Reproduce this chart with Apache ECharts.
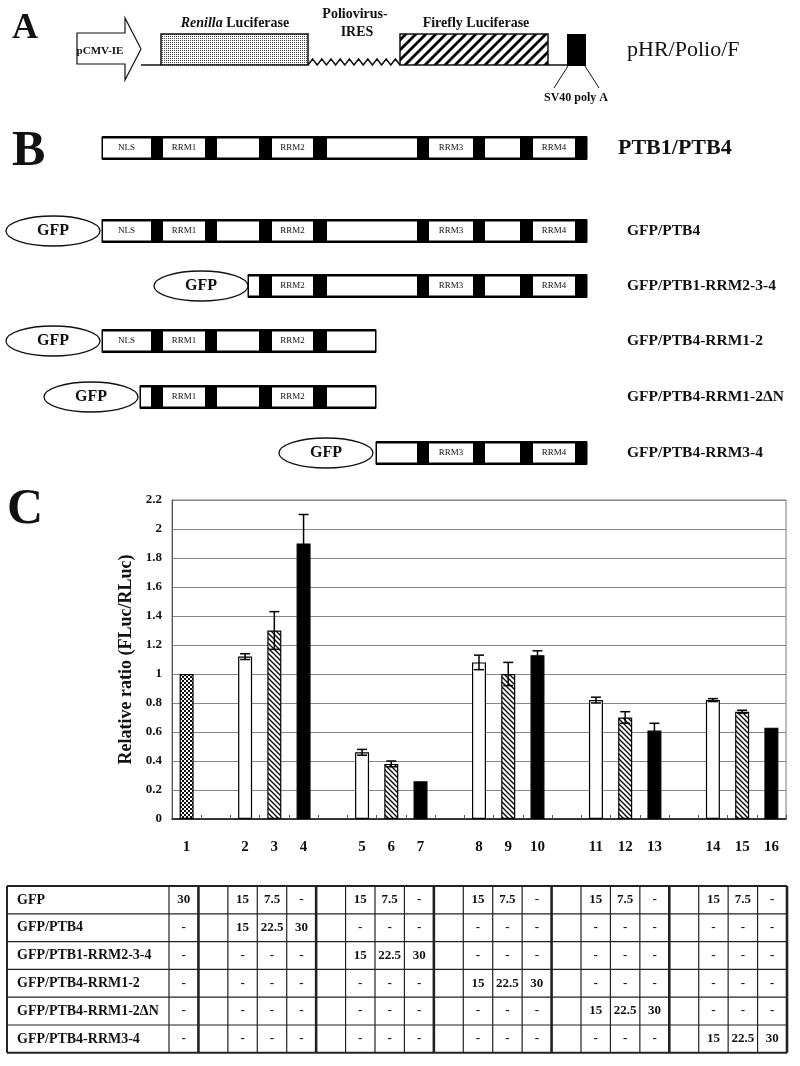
<!DOCTYPE html>
<html lang="en">
<head>
<meta charset="utf-8">
<style>
  html, body { margin: 0; background: #fff; }
  #container { width: 800px; height: 1066px; }
</style>
</head>
<body>
<div id="container"></div>
<script src="https://cdn.jsdelivr.net/npm/echarts@6/dist/echarts.min.js"></script>
<script>
// ---- panel C data ----
const laneNames = ['1', '2', '3', '4', '5', '6', '7', '8', '9', '10', '11', '12', '13', '14', '15', '16'];
// slot of each lane on the x axis (empty slots separate the groups)
const laneSlot = [0, 2, 3, 4, 6, 7, 8, 10, 11, 12, 14, 15, 16, 18, 19, 20];
const slotCount = 21;
const ratio    = [1.00, 1.12, 1.30, 1.90, 0.46, 0.38, 0.26, 1.08, 1.00, 1.13, 0.82, 0.70, 0.61, 0.82, 0.74, 0.63];
const ratioErr = [0,    0.02, 0.13, 0.20, 0.02, 0.02, 0,    0.05, 0.08, 0.03, 0.02, 0.04, 0.05, 0.01, 0.01, 0];
const laneFill = ['check', 'open', 'hatch', 'solid', 'open', 'hatch', 'solid', 'open', 'hatch', 'solid',
                  'open', 'hatch', 'solid', 'open', 'hatch', 'solid'];

// ---- table under panel C (amounts per lane) ----
const tableLabels = ['GFP', 'GFP/PTB4', 'GFP/PTB1-RRM2-3-4', 'GFP/PTB4-RRM1-2', 'GFP/PTB4-RRM1-2\u0394N', 'GFP/PTB4-RRM3-4'];
const amtGFP      = ['30', '15', '7.5', '-', '15', '7.5', '-', '15', '7.5', '-', '15', '7.5', '-', '15', '7.5', '-'];
const amtPTB4     = ['-', '15', '22.5', '30', '-', '-', '-', '-', '-', '-', '-', '-', '-', '-', '-', '-'];
const amtRRM234   = ['-', '-', '-', '-', '15', '22.5', '30', '-', '-', '-', '-', '-', '-', '-', '-', '-'];
const amtRRM12    = ['-', '-', '-', '-', '-', '-', '-', '15', '22.5', '30', '-', '-', '-', '-', '-', '-'];
const amtRRM12dN  = ['-', '-', '-', '-', '-', '-', '-', '-', '-', '-', '15', '22.5', '30', '-', '-', '-'];
const amtRRM34    = ['-', '-', '-', '-', '-', '-', '-', '-', '-', '-', '-', '-', '-', '15', '22.5', '30'];
const tableValues = [amtGFP, amtPTB4, amtRRM234, amtRRM12, amtRRM12dN, amtRRM34];

// ---- panel B constructs ----
const domainNames = ['NLS', 'RRM1', '', 'RRM2', '', 'RRM3', '', 'RRM4'];
const constructNames = ['PTB1/PTB4', 'GFP/PTB4', 'GFP/PTB1-RRM2-3-4', 'GFP/PTB4-RRM1-2', 'GFP/PTB4-RRM1-2\u0394N', 'GFP/PTB4-RRM3-4'];

// ---- layout ----
const SERIF = '"Liberation Serif", "Times New Roman", serif';
const gridL = 172, gridT = 500, gridR = 786, gridB = 819;
// full length PTB: white boxes separated by black linkers (x edges)
const whiteBoxes = [[102, 151], [163, 205], [217, 259], [272, 313], [327, 417], [429, 473], [485, 520], [533, 575]];
const constructLayout = [
  { from: 102, to: 587, gfp: null, y: 148, big: true },
  { from: 102, to: 587, gfp: 53, y: 231 },
  { from: 248, to: 587, gfp: 201, y: 286 },
  { from: 102, to: 376, gfp: 53, y: 341 },
  { from: 140, to: 376, gfp: 91, y: 397 },
  { from: 376, to: 587, gfp: 326, y: 453 }
];

function pattern(size, draw) {
  const c = document.createElement('canvas');
  c.width = c.height = size;
  draw(c.getContext('2d'), size);
  return { image: c, repeat: 'repeat' };
}
const backHatch = pattern(5, function (g, s) {
  g.fillStyle = '#fff'; g.fillRect(0, 0, s, s);
  g.strokeStyle = '#000'; g.lineWidth = 1.3;
  g.beginPath();
  g.moveTo(-1, -1); g.lineTo(s + 1, s + 1);
  g.moveTo(-1, s - 1); g.lineTo(1, s + 1);
  g.moveTo(s - 1, -1); g.lineTo(s + 1, 1);
  g.stroke();
});
const checker = pattern(4, function (g, s) {
  g.fillStyle = '#111'; g.fillRect(0, 0, s, s);
  g.fillStyle = '#fff'; g.fillRect(0, 0, 2, 2); g.fillRect(2, 2, 2, 2);
});
const fwdHatch = pattern(10, function (g, s) {
  g.fillStyle = '#fff'; g.fillRect(0, 0, s, s);
  g.strokeStyle = '#000'; g.lineWidth = 2.8;
  g.beginPath();
  g.moveTo(-1, s + 1); g.lineTo(s + 1, -1);
  g.moveTo(-2, 2); g.lineTo(2, -2);
  g.moveTo(s - 2, s + 2); g.lineTo(s + 2, s - 2);
  g.stroke();
});
const stipple = pattern(2, function (g, s) {
  g.fillStyle = '#fff'; g.fillRect(0, 0, s, s);
  g.fillStyle = '#444'; g.fillRect(0, 0, 1, 1);
});
const fills = { open: '#fff', hatch: backHatch, solid: '#000', check: checker };

// ---- series data ----
const categories = [];
const barData = [];
for (let s = 0; s < slotCount; s++) { categories.push(''); barData.push('-'); }
const errData = [];
laneNames.forEach(function (name, k) {
  const s = laneSlot[k];
  categories[s] = name;
  barData[s] = { value: ratio[k], itemStyle: { color: fills[laneFill[k]] } };
  if (ratioErr[k] > 0) errData.push([s, ratio[k] - ratioErr[k], ratio[k] + ratioErr[k]]);
});

// ---- graphic: panel letters, diagrams, table ----
const els = [];
function text(x, y, str, font, align, extra) {
  els.push({
    type: 'text', silent: true,
    style: Object.assign({ x: x, y: y, text: str, font: font, fill: '#111',
      textAlign: align || 'center', textVerticalAlign: 'middle' }, extra || {})
  });
}
function rect(x, y, w, h, fill, stroke, lw) {
  els.push({ type: 'rect', silent: true, shape: { x: x, y: y, width: w, height: h },
    style: { fill: fill, stroke: stroke || null, lineWidth: lw || 0 } });
}
function line(x1, y1, x2, y2, lw, color) {
  els.push({ type: 'line', silent: true, shape: { x1: x1, y1: y1, x2: x2, y2: y2 },
    style: { stroke: color || '#111', lineWidth: lw || 1 } });
}

text(12, 29, 'A', 'bold 36px ' + SERIF, 'left');
text(12, 152, 'B', 'bold 50px ' + SERIF, 'left');
text(7, 510, 'C', 'bold 50px ' + SERIF, 'left');

// panel A: reporter construct
els.push({ type: 'polygon', silent: true,
  shape: { points: [[77, 33], [125, 33], [125, 18], [141, 49], [125, 80], [125, 64], [77, 64]] },
  style: { fill: '#fff', stroke: '#111', lineWidth: 1.2 } });
text(100, 51, 'pCMV-IE', 'bold 11px ' + SERIF);
line(141, 65, 161, 65, 1.5);
rect(161, 34, 147, 31, stipple, '#111', 1.5);
const zig = [];
for (let x = 308, k = 0; x <= 400.5; x += 4.6, k++) zig.push([x, k % 2 ? 59 : 65]);
els.push({ type: 'polyline', silent: true, shape: { points: zig }, style: { stroke: '#111', lineWidth: 1.5, fill: null } });
rect(400, 34, 148, 31, fwdHatch, '#111', 1.5);
line(548, 65, 567, 65, 1.5);
rect(567, 34, 19, 32, '#000');
line(568, 66, 554, 88, 1);
line(585, 66, 599, 88, 1);
text(235, 23, '{i|Renilla} Luciferase', 'bold 14px ' + SERIF, 'center',
  { rich: { i: { fontStyle: 'italic', fontWeight: 'bold', fontSize: 14, fontFamily: SERIF } } });
text(355, 14, 'Poliovirus-', 'bold 14px ' + SERIF);
text(357, 32, 'IRES', 'bold 14px ' + SERIF);
text(476, 23, 'Firefly Luciferase', 'bold 14px ' + SERIF);
text(576, 98, 'SV40 poly A', 'bold 12px ' + SERIF);
text(627, 50, 'pHR/Polio/F', '22px ' + SERIF, 'left');

// panel B: PTB constructs
constructLayout.forEach(function (c, i) {
  const top = c.y - 11.5, h = 23;
  rect(c.from, top, c.to - c.from, h, '#000', '#000', 1);
  whiteBoxes.forEach(function (b, j) {
    const a = Math.max(b[0], c.from), z = Math.min(b[1], c.to);
    if (z <= a) return;
    const l = (a === c.from) ? a + 1 : a;
    const r = (z === c.to) ? z - 1 : z;
    rect(l, top + 2, r - l, h - 4, '#fff');
    if (domainNames[j] && b[0] >= c.from && b[1] <= c.to) {
      text((b[0] + b[1]) / 2, c.y, domainNames[j], '9px ' + SERIF);
    }
  });
  if (c.gfp !== null) {
    els.push({ type: 'ellipse', silent: true, shape: { cx: c.gfp, cy: c.y, rx: 47, ry: 15 },
      style: { fill: '#fff', stroke: '#111', lineWidth: 1.3 } });
    text(c.gfp, c.y, 'GFP', 'bold 16px ' + SERIF);
  }
  if (c.big) text(618, c.y, constructNames[i], 'bold 22px ' + SERIF, 'left');
  else text(627, c.y, constructNames[i], 'bold 15.5px ' + SERIF, 'left');
});

// table aligned with the lane slots
const tabL = 7, tabLabelR = 169, tabR = 787, tabT = 886, rowH = 27.8;
const colW = (tabR - tabLabelR) / slotCount;
const tabB = tabT + rowH * tableLabels.length;
for (let r = 0; r <= tableLabels.length; r++) {
  const edge = (r === 0 || r === tableLabels.length);
  line(tabL, tabT + r * rowH, tabR, tabT + r * rowH, edge ? 2 : 1.2, '#222');
}
line(tabL, tabT, tabL, tabB, 2, '#222');
for (let s = 0; s <= slotCount; s++) {
  const gapLeft = s < slotCount && laneSlot.indexOf(s) < 0;
  line(tabLabelR + s * colW, tabT, tabLabelR + s * colW, tabB, (gapLeft || s === slotCount) ? 2.6 : 1.2, '#222');
}
tableLabels.forEach(function (lab, r) {
  const cy = tabT + (r + 0.5) * rowH;
  text(17, cy, lab, 'bold 14px ' + SERIF, 'left');
  tableValues[r].forEach(function (v, k) {
    text(tabLabelR + (laneSlot[k] + 0.5) * colW, cy, v, 'bold 13px ' + SERIF);
  });
});

const chart = echarts.init(document.getElementById('container'), null, { renderer: 'canvas' });
chart.setOption({
  animation: false,
  backgroundColor: '#fff',
  grid: { left: gridL, top: gridT, right: 800 - gridR, bottom: 1066 - gridB, show: true,
    borderColor: '#777', borderWidth: 1, containLabel: false },
  xAxis: {
    type: 'category',
    data: categories,
    axisLine: { lineStyle: { color: '#111', width: 1.5 } },
    axisTick: { show: true, inside: true, length: 4, interval: 0, lineStyle: { color: '#555' } },
    axisLabel: { interval: 0, margin: 21, color: '#111', fontFamily: SERIF, fontWeight: 'bold', fontSize: 15 },
    splitLine: { show: false }
  },
  yAxis: {
    type: 'value',
    min: 0, max: 2.2, interval: 0.2,
    name: 'Relative ratio (FLuc/RLuc)',
    nameLocation: 'middle',
    nameGap: 35,
    nameTextStyle: { color: '#111', fontFamily: SERIF, fontWeight: 'bold', fontSize: 18 },
    axisLine: { show: true, lineStyle: { color: '#555', width: 1 } },
    axisTick: { show: false },
    axisLabel: { margin: 10, color: '#111', fontFamily: SERIF, fontWeight: 'bold', fontSize: 13,
      formatter: function (v) { return String(Math.round(v * 10) / 10); } },
    splitLine: { lineStyle: { color: '#888', width: 1 } }
  },
  series: [
    {
      type: 'bar',
      data: barData,
      barWidth: 14,
      itemStyle: { borderColor: '#000', borderWidth: 1.2 },
      z: 2
    },
    {
      type: 'custom',
      data: errData,
      z: 3,
      renderItem: function (params, api) {
        const x = api.value(0);
        const lo = api.coord([x, api.value(1)]);
        const hi = api.coord([x, api.value(2)]);
        const half = 5;
        const st = { stroke: '#000', lineWidth: 1.5 };
        return {
          type: 'group',
          children: [
            { type: 'line', shape: { x1: hi[0], y1: hi[1], x2: lo[0], y2: lo[1] }, style: st },
            { type: 'line', shape: { x1: hi[0] - half, y1: hi[1], x2: hi[0] + half, y2: hi[1] }, style: st },
            { type: 'line', shape: { x1: lo[0] - half, y1: lo[1], x2: lo[0] + half, y2: lo[1] }, style: st }
          ]
        };
      }
    }
  ],
  graphic: { elements: els }
});
window.addEventListener('resize', chart.resize);
</script>
</body>
</html>
